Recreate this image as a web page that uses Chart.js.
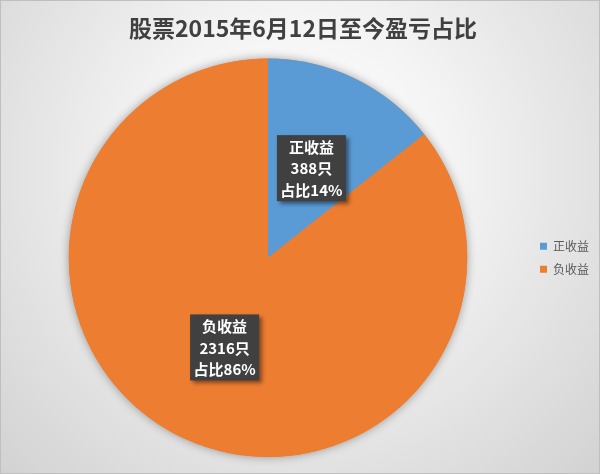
<!DOCTYPE html>
<html>
<head>
<meta charset="utf-8">
<script src="https://cdn.jsdelivr.net/npm/chart.js@4"></script>
<style>
    html, body { margin: 0; padding: 0; }
    #wrap {
        width: 600px; height: 474px; box-sizing: border-box;
        border: 1px solid #bfbfbf;
        background: radial-gradient(ellipse at 50% 35%, #ffffff 0%, #f4f4f4 35%, #d2d2d2 100%);
        position: relative;
    }
    canvas { display: block; }
</style>
</head>
<body>
<div id="wrap"><canvas id="chart"></canvas></div>
<script>
// data
var TITLE = '股票2015年6月12日至今盈亏占比';
var categories = ['正收益', '负收益'];
var counts = [388, 2316];
var sliceColors = ['#5b9bd5', '#ed7d31'];

var FONT = '"Noto Sans CJK SC", "Noto Sans", sans-serif';

// soft shadow under the whole pie
var pieShadow = {
    id: 'pieShadow',
    beforeDatasetsDraw: function (chart) {
        var arc = chart.getDatasetMeta(0).data[0];
        if (!arc) return;
        var ctx = chart.ctx;
        ctx.save();
        ctx.shadowColor = 'rgba(0,0,0,0.35)';
        ctx.shadowBlur = 10;
        ctx.beginPath();
        ctx.arc(arc.x, arc.y, arc.outerRadius, 0, Math.PI * 2);
        ctx.fillStyle = sliceColors[1];
        ctx.fill();
        ctx.restore();
    }
};

// dark boxed labels in the middle of each slice
var sliceLabels = {
    id: 'sliceLabels',
    afterDatasetsDraw: function (chart) {
        var ctx = chart.ctx;
        var data = chart.data.datasets[0].data;
        var total = data.reduce(function (a, b) { return a + b; }, 0);
        var boxW = 69, boxH = 66;

        chart.getDatasetMeta(0).data.forEach(function (arc, i) {
            var pos = arc.tooltipPosition();
            var pct = Math.round(data[i] / total * 100);
            var lines = [categories[i], data[i] + '只', '占比' + pct + '%'];

            ctx.save();
            ctx.shadowColor = 'rgba(0,0,0,0.45)';
            ctx.shadowBlur = 4;
            ctx.shadowOffsetX = 3;
            ctx.shadowOffsetY = 3;
            ctx.fillStyle = '#404040';
            ctx.fillRect(pos.x - boxW / 2, pos.y - boxH / 2, boxW, boxH);
            ctx.restore();

            ctx.save();
            ctx.fillStyle = '#ffffff';
            ctx.textAlign = 'center';
            ctx.textBaseline = 'middle';
            ctx.font = 'bold 15px ' + FONT;
            lines.forEach(function (txt, k) {
                ctx.fillText(txt, pos.x, pos.y - 21 + k * 21.5);
            });
            ctx.restore();
        });
    }
};

new Chart(document.getElementById('chart'), {
    type: 'pie',
    data: {
        labels: categories,
        datasets: [{
            data: counts,
            backgroundColor: sliceColors,
            borderWidth: 0
        }]
    },
    options: {
        responsive: true,
        maintainAspectRatio: false,
        animation: false,
        layout: { padding: { left: 6, right: 0, top: 0, bottom: 16 } },
        plugins: {
            title: {
                display: true,
                text: TITLE,
                color: '#404040',
                font: { family: FONT, size: 23, weight: 'bold' },
                padding: { top: 13, bottom: 17 }
            },
            legend: {
                position: 'right',
                fullSize: false,
                labels: {
                    boxWidth: 7,
                    boxHeight: 7,
                    padding: 11,
                    color: '#595959',
                    font: { family: FONT, size: 12 }
                }
            },
            tooltip: { enabled: false }
        }
    },
    plugins: [pieShadow, sliceLabels]
});
</script>
</body>
</html>
